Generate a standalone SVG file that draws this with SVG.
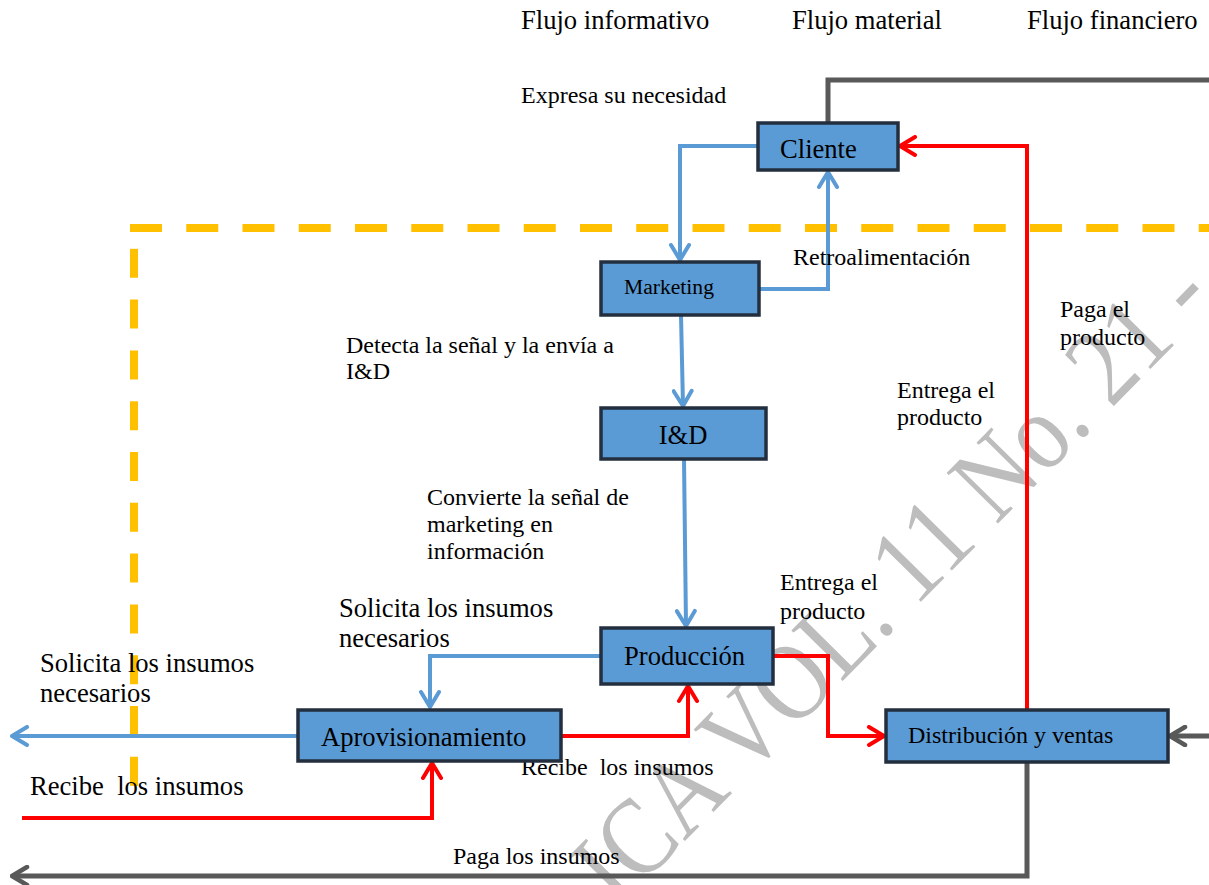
<svg xmlns="http://www.w3.org/2000/svg" width="1209" height="885" viewBox="0 0 1209 885">
<style>
text{font-family:"Liberation Serif","Times New Roman",serif;fill:#000}
.lbl{font-size:24px}
.hd{font-size:26.6px}
.big{font-size:26.6px}
.box{fill:#5b9bd5;stroke:#232f3e;stroke-width:3.5}
.blue{fill:none;stroke:#5b9bd5;stroke-width:4}
.red{fill:none;stroke:#ff0000;stroke-width:4}
.gray{fill:none;stroke:#595959;stroke-width:5}
.dash{fill:none;stroke:#ffc000;stroke-width:8}
.wm{font-size:110px;fill:#bdbdbd}
</style>
<defs>
<marker id="ab" viewBox="0 0 20 22" refX="18" refY="11" markerWidth="20" markerHeight="22" markerUnits="userSpaceOnUse" orient="auto"><path d="M3,2 L18,11 L3,20" fill="none" stroke="#5b9bd5" stroke-width="4" stroke-linecap="round" stroke-linejoin="round"/></marker>
<marker id="ar" viewBox="0 0 20 22" refX="18" refY="11" markerWidth="20" markerHeight="22" markerUnits="userSpaceOnUse" orient="auto"><path d="M3,2 L18,11 L3,20" fill="none" stroke="#ff0000" stroke-width="4" stroke-linecap="round" stroke-linejoin="round"/></marker>
<marker id="ag" viewBox="0 0 20 22" refX="18" refY="11" markerWidth="20" markerHeight="22" markerUnits="userSpaceOnUse" orient="auto"><path d="M3,2 L18,11 L3,20" fill="none" stroke="#595959" stroke-width="4.5" stroke-linecap="round" stroke-linejoin="round"/></marker>
</defs>
<rect width="1209" height="885" fill="#fff"/>
<g id="watermark">
<text class="wm" transform="translate(895,628) rotate(-45.4) scale(0.865,1)" x="-457" y="0">ICA VOL. 11 No. 21 -</text>
</g>
<g id="boundary">
<path class="dash" d="M130,228 H1209" stroke-dasharray="32 24.25"/>
<path class="dash" d="M134,228 V790" stroke-dasharray="29 21.8" stroke-dashoffset="30"/>
</g>
<g id="connectors">
<path class="gray" d="M828,123 V80 H1209"/>
<path class="red" d="M1027,710 V146 H900" marker-end="url(#ar)"/>
<path class="blue" d="M758,146 H680 V260" marker-end="url(#ab)"/>
<path class="blue" d="M759,289 H828 V172" marker-end="url(#ab)"/>
<path class="blue" d="M681,315 L683,406" marker-end="url(#ab)"/>
<path class="blue" d="M684,459 L686,626" marker-end="url(#ab)"/>
<path class="blue" d="M601,656 H430 V707" marker-end="url(#ab)"/>
<path class="red" d="M773,656 H828 V736 H884" marker-end="url(#ar)"/>
<path class="red" d="M561,736 H688 V686" marker-end="url(#ar)"/>
<path class="blue" d="M298,736 H12" marker-end="url(#ab)"/>
<path class="red" d="M22,818 H432 V763" marker-end="url(#ar)"/>
<path class="gray" d="M1209,736 H1170" marker-end="url(#ag)"/>
<path class="gray" d="M1027,762 V876 H12" marker-end="url(#ag)"/>
</g>
<g id="labels">
<text class="hd" x="521" y="29">Flujo informativo</text>
<text class="hd" x="792" y="29">Flujo material</text>
<text class="hd" x="1027" y="29">Flujo financiero</text>
<text class="lbl" x="521" y="103">Expresa su necesidad</text>
<text class="lbl" x="793" y="265">Retroalimentación</text>
<text class="lbl" x="346" y="353">Detecta la señal y la envía a</text>
<text class="lbl" x="346" y="379">I&amp;D</text>
<text class="lbl" x="427" y="505">Convierte la señal de</text>
<text class="lbl" x="427" y="532">marketing en</text>
<text class="lbl" x="427" y="559">información</text>
<text class="big" x="339" y="617">Solicita los insumos</text>
<text class="big" x="339" y="647">necesarios</text>
<text class="lbl" x="780" y="590">Entrega el</text>
<text class="lbl" x="780" y="619">producto</text>
<text class="lbl" x="897" y="398">Entrega el</text>
<text class="lbl" x="897" y="425">producto</text>
<text class="lbl" x="1060" y="317">Paga el</text>
<text class="lbl" x="1060" y="345">producto</text>
<text class="big" x="40" y="672">Solicita los insumos</text>
<text class="big" x="40" y="702">necesarios</text>
<text class="big" x="30" y="795" xml:space="preserve">Recibe  los insumos</text>
<text class="lbl" x="521" y="775" xml:space="preserve">Recibe  los insumos</text>
<text class="lbl" x="453" y="864">Paga los insumos</text>
</g>
<g id="cliente"><rect class="box" x="758" y="123" width="140" height="47"/><text class="big" x="780" y="158">Cliente</text></g>
<g id="marketing"><rect class="box" x="601" y="262" width="158" height="53"/><text x="624" y="294" style="font-size:21.6px">Marketing</text></g>
<g id="id"><rect class="box" x="601" y="408" width="165" height="51"/><text class="big" x="683" y="444" text-anchor="middle">I&amp;D</text></g>
<g id="produccion"><rect class="box" x="601" y="628" width="172" height="56"/><text class="big" x="624" y="665">Producción</text></g>
<g id="aprovisionamiento"><rect class="box" x="298" y="710" width="263" height="51"/><text class="big" x="321" y="746">Aprovisionamiento</text></g>
<g id="distribucion"><rect class="box" x="886" y="710" width="282" height="52"/><text class="lbl" x="908" y="743">Distribución y ventas</text></g>
</svg>
